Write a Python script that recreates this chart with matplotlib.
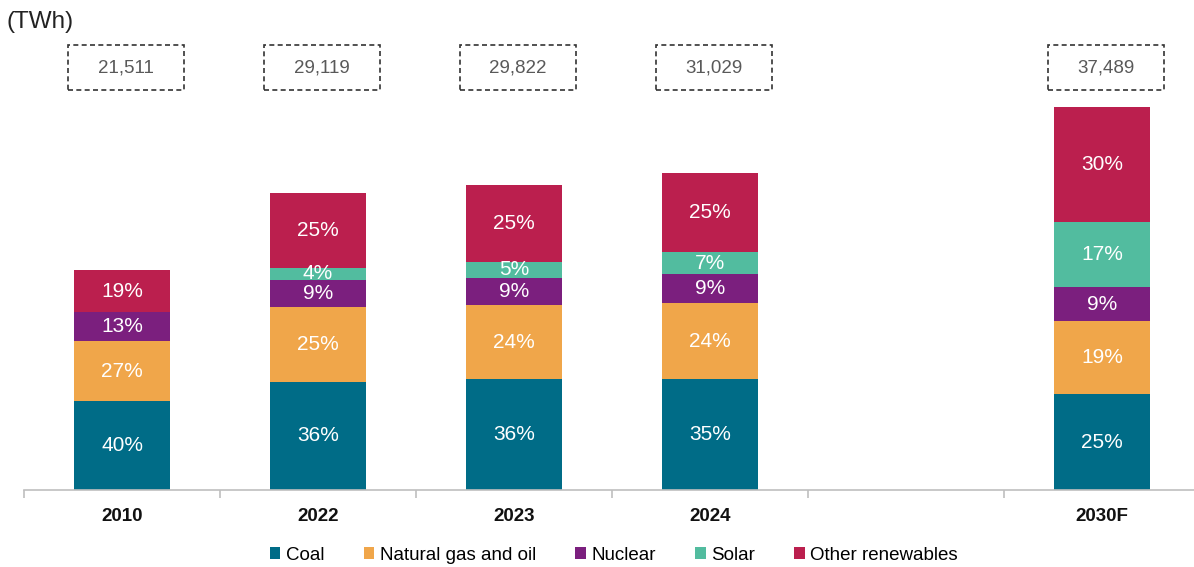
import matplotlib

matplotlib.use("Agg")
import matplotlib.pyplot as plt
import matplotlib.transforms as mtransforms
from matplotlib.patches import Rectangle
import numpy as np

plt.rcParams["font.family"] = ["Liberation Sans", "DejaVu Sans"]

years = ["2010", "2022", "2023", "2024", "", "2030F"]
totals = [21511, 29119, 29822, 31029, 0, 37489]
coal = [40, 36, 36, 35, 0, 25]
gas_oil = [27, 25, 24, 24, 0, 19]
nuclear = [13, 9, 9, 9, 0, 9]
solar = [0, 4, 5, 7, 0, 17]
other_ren = [19, 25, 25, 25, 0, 30]

series = [
    ("Coal", coal, "#006c87"),
    ("Natural gas and oil", gas_oil, "#f0a64a"),
    ("Nuclear", nuclear, "#7b1f7e"),
    ("Solar", solar, "#52bc9f"),
    ("Other renewables", other_ren, "#bb1f4e"),
]

fig = plt.figure(figsize=(11.94, 5.67), dpi=100)
ax = fig.add_axes([24 / 1194, 1 - 490 / 567, 1176 / 1194, 490 / 567])

x = np.arange(len(years))
share_sum = np.array([sum(s[i] for _, s, _ in series) for i in range(len(years))], dtype=float)
share_sum[share_sum == 0] = 1
tot = np.array(totals, dtype=float)
bottom = np.zeros(len(years))
for name, shares, color in series:
    vals = tot * np.array(shares) / share_sum
    ax.bar(x, vals, 0.49, bottom=bottom, color=color, label=name, linewidth=0)
    for i, (v, s) in enumerate(zip(vals, shares)):
        if s > 0:
            ax.text(x[i], bottom[i] + v / 2, f"{s}%", ha="center", va="center",
                    color="white", fontsize=15)
    bottom += vals

ax.set_xlim(-0.5, 5.5)
ax.set_ylim(0, max(totals) * 490 / 383)

# dashed total boxes above each bar
trans = mtransforms.blended_transform_factory(ax.transData, ax.transAxes)
for i, t in enumerate(totals):
    if t == 0:
        continue
    cx = x[i] + 0.02
    ax.add_patch(Rectangle((cx - 0.297, 0.816), 0.594, 0.092, transform=trans,
                           fill=False, edgecolor="#333333", linestyle=(0, (3, 2)),
                           linewidth=1.2, clip_on=False))
    ax.text(cx, 0.862, f"{t:,}", transform=trans, ha="center", va="center",
            fontsize=13.5, color="#595959")

for side in ["top", "right", "left"]:
    ax.spines[side].set_visible(False)
ax.spines["bottom"].set_color("#bfbfbf")
ax.spines["bottom"].set_linewidth(1.2)
ax.set_yticks([])
ax.set_xticks(x)
ax.set_xticklabels(years, fontsize=13.5, fontweight="bold", color="#111111")
ax.tick_params(axis="x", which="major", length=0, pad=13)
ax.set_xticks(np.arange(-0.5, 6, 1), minor=True)
ax.tick_params(axis="x", which="minor", length=6, color="#bfbfbf", width=1.2)

fig.text(6 / 1194, 1 - 22 / 567, "(TWh)", fontsize=17.5, color="#222222", va="center")

fig.legend(loc="center", bbox_to_anchor=(614 / 1194, 1 - 555 / 567), ncol=5,
           frameon=False, fontsize=13.5, handlelength=0.55, handleheight=0.55,
           handletextpad=0.3, columnspacing=2.1)

fig.savefig("out.png", dpi=100)
